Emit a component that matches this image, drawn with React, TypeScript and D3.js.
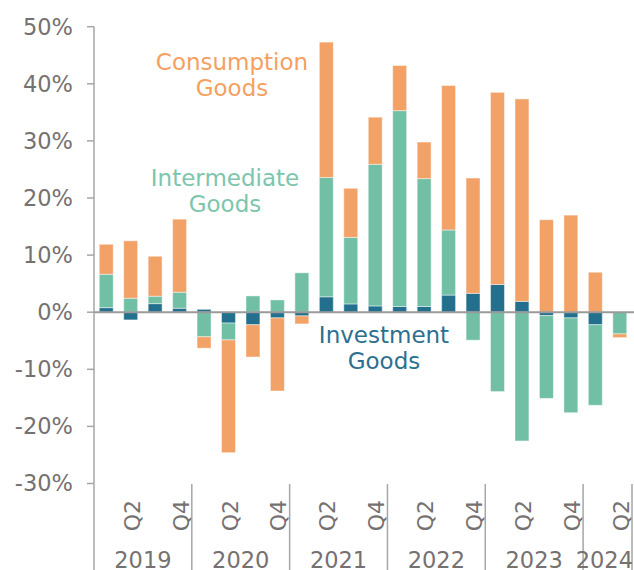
import * as d3 from "d3"

const years = ["2019", "2020", "2021", "2022", "2023", "2024"]
const quarters = [
  "2019Q1", "2019Q2", "2019Q3", "2019Q4",
  "2020Q1", "2020Q2", "2020Q3", "2020Q4",
  "2021Q1", "2021Q2", "2021Q3", "2021Q4",
  "2022Q1", "2022Q2", "2022Q3", "2022Q4",
  "2023Q1", "2023Q2", "2023Q3", "2023Q4",
  "2024Q1", "2024Q2",
]
// contributions in percentage points
const investment = [0.8, -1.35, 1.5, 0.7, 0.5, -1.9, -2.2, -1.0, -0.65, 2.7, 1.45, 1.1, 1.0, 1.0, 3.0, 3.3, 4.85, 1.9, -0.6, -1.0, -2.2, 0]
const intermediate = [5.85, 2.45, 1.3, 2.8, -4.3, -2.95, 2.85, 2.15, 6.9, 20.9, 11.65, 24.8, 34.3, 22.4, 11.4, -4.9, -13.9, -22.55, -14.5, -16.6, -14.1, -3.8]
const consumption = [5.25, 10.05, 7.0, 12.8, -2.0, -19.75, -5.65, -12.8, -1.4, 23.7, 8.6, 8.25, 7.9, 6.4, 25.3, 20.2, 33.65, 35.45, 16.2, 17.0, 7.0, -0.65]
const yTicks = [-30, -20, -10, 0, 10, 20, 30, 40, 50]

const keys = ["investment", "intermediate", "consumption"]
const colors = {investment: "#23708e", intermediate: "#71bfa5", consumption: "#f2a167"}
const labelColors = {investment: "#2b7090", intermediate: "#7cc6ac", consumption: "#f5a05f"}
const labels = [
  {key: "consumption", lines: ["Consumption", "Goods"], x: 232, y: 70},
  {key: "intermediate", lines: ["Intermediate", "Goods"], x: 225, y: 186},
  {key: "investment", lines: ["Investment", "Goods"], x: 384, y: 343},
]

export default function App() {
  const width = 634
  const height = 570
  const font = "DejaVu Sans"
  const grey = "#767171"

  const rows = quarters.map((q, i) => ({
    q,
    investment: investment[i],
    intermediate: intermediate[i],
    consumption: consumption[i],
  }))
  const stacked = d3.stack().keys(keys).offset(d3.stackOffsetDiverging)(rows as any)

  const x = d3.scaleBand().domain(quarters).range([94, 632]).paddingInner(0.43).paddingOuter(0.215)
  const y = d3.scaleLinear().domain([-30, 50]).range([483.5, 26.7])
  const step = x.step()
  const x0 = x.range()[0]

  return (
    <svg width={width} height={height} style={{position: "absolute", left: 0, top: 0}} fontFamily={font}>
      {/* bars */}
      {stacked.map((s) => (
        <g key={s.key} fill={colors[s.key]}>
          {s.map((d, i) => (
            <rect
              key={i}
              x={x(quarters[i])}
              width={x.bandwidth()}
              y={y(Math.max(d[0], d[1]))}
              height={Math.abs(y(d[0]) - y(d[1]))}
              stroke="#fff"
              strokeOpacity={0.45}
              strokeWidth={1}
            />
          ))}
        </g>
      ))}

      {/* zero line */}
      <line x1={94} x2={width} y1={y(0)} y2={y(0)} stroke="#9a9a9a" strokeWidth={2} />

      {/* y axis */}
      <line x1={94} x2={94} y1={y(50)} y2={y(-30)} stroke="#a6a6a6" strokeWidth={1.5} />
      {yTicks.map((t) => (
        <g key={t}>
          <line x1={87} x2={94} y1={y(t)} y2={y(t)} stroke="#a6a6a6" strokeWidth={1.5} />
          <text x={73} y={y(t)} dy="0.35em" textAnchor="end" fontSize={22.5} fill={grey}>
            {t + "%"}
          </text>
        </g>
      ))}

      {/* x axis: quarters and year dividers */}
      {quarters.map((q) => {
        const lab = q.slice(4)
        if (lab !== "Q2" && lab !== "Q4") return null
        const cx = x(q) + x.bandwidth() / 2
        return (
          <text key={q} transform={`translate(${cx + 9},500) rotate(-90)`} textAnchor="end" fontSize={22} fill={grey}>
            {lab}
          </text>
        )
      })}
      {years.map((yr, k) => {
        const left = x0 + k * 4 * step
        const right = Math.min(left + 4 * step, x.range()[1])
        const last = k === years.length - 1
        return (
          <g key={yr}>
            <line x1={left} x2={left} y1={484} y2={height} stroke="#a6a6a6" strokeWidth={1.5} />
            {last && <line x1={right} x2={right} y1={484} y2={height} stroke="#a6a6a6" strokeWidth={1.5} />}
            <text
              x={last ? width - 1 : (left + right) / 2}
              y={568}
              textAnchor={last ? "end" : "middle"}
              fontSize={22.5}
              fill={grey}
            >
              {yr}
            </text>
          </g>
        )
      })}

      {/* series labels */}
      {labels.map((l) => (
        <text key={l.key} x={l.x} y={l.y} textAnchor="middle" fontSize={23} fill={labelColors[l.key]}>
          {l.lines.map((s, i) => (
            <tspan key={i} x={l.x} dy={i === 0 ? 0 : 26}>
              {s}
            </tspan>
          ))}
        </text>
      ))}
    </svg>
  )
}
